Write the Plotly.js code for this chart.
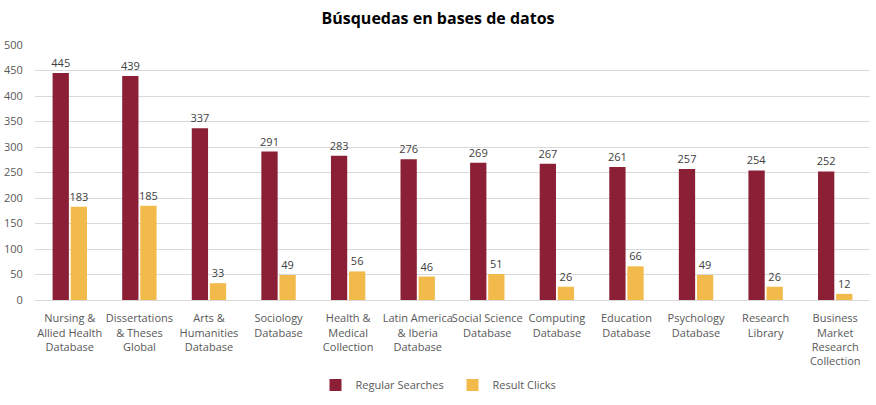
<!DOCTYPE html>
<html><head><meta charset="utf-8">
<script src="https://cdn.plot.ly/plotly-3.0.1.min.js"></script>
<style>html,body{margin:0;padding:0;background:#fff}#c{width:876px;height:405px}</style>
</head><body><div id="c"></div>
<script>
const categories = ["Nursing &<br>Allied Health<br>Database","Dissertations<br>& Theses<br>Global","Arts &<br>Humanities<br>Database","Sociology<br>Database","Health &<br>Medical<br>Collection","Latin America<br>& Iberia<br>Database","Social Science<br>Database","Computing<br>Database","Education<br>Database","Psychology<br>Database","Research<br>Library","Business<br>Market<br>Research<br>Collection"];
const regularSearches = [445,439,337,291,283,276,269,267,261,257,254,252];
const resultClicks = [183,185,33,49,56,46,51,26,66,49,26,12];
const yTicks = [0,50,100,150,200,250,300,350,400,450,500];

const font = "Open Sans, Noto Sans, sans-serif";
const data = [
 {type:'bar', name:'Regular Searches', x:categories, y:regularSearches, marker:{color:'#8B1F35'},
  text:regularSearches.map(String), textposition:'outside', constraintext:'none', textfont:{size:11,color:'#404040',family:font}, cliponaxis:false},
 {type:'bar', name:'Result Clicks', x:categories, y:resultClicks, marker:{color:'#F2BA4A'},
  text:resultClicks.map(String), textposition:'outside', constraintext:'none', textfont:{size:11,color:'#404040',family:font}, cliponaxis:false}
];
const layout = {
 width:876, height:405, margin:{l:35,r:6,t:45,b:102},
 paper_bgcolor:'#fff', plot_bgcolor:'#fff',
 font:{family:font, size:11, color:'#595959'},
 title:{text:'<b>Búsquedas en bases de datos</b>', x:0.5, xanchor:'center', y:0.955, yanchor:'middle', font:{size:16,color:'#000',family:font}},
 barmode:'group', bargap:0.48, bargroupgap:0.1,
 xaxis:{tickfont:{size:11,color:'#595959'}, showline:true, linecolor:'#d9d9d9', ticks:'outside', ticklen:8, tickcolor:'rgba(0,0,0,0)', tickangle:0, automargin:false},
 yaxis:{range:[0,500], tickvals:yTicks, showgrid:true, gridcolor:'#d9d9d9', zeroline:false, tickfont:{size:11,color:'#595959'}, ticks:'outside', ticklen:9, tickcolor:'rgba(0,0,0,0)', automargin:false},
 legend:{orientation:'h', x:0.5, xanchor:'center', y:-0.333, yanchor:'middle', font:{size:11,color:'#595959'}, itemwidth:30, entrywidth:92, entrywidthmode:'pixels', traceorder:'normal'},
 showlegend:true
};
Plotly.newPlot('c', data, layout, {displayModeBar:false, staticPlot:true});
</script></body></html>
